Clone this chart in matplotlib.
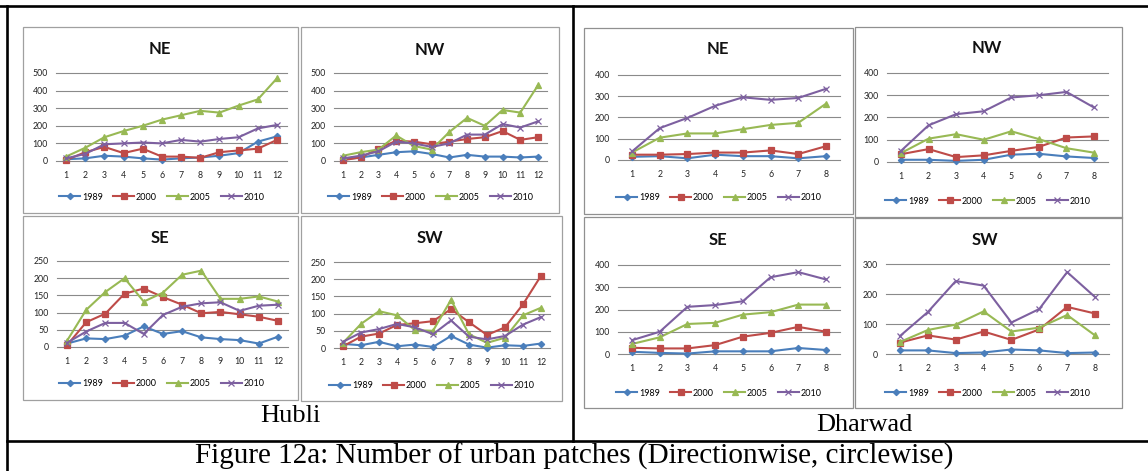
import matplotlib
matplotlib.use("Agg")
import matplotlib.pyplot as plt
from matplotlib.lines import Line2D
from matplotlib.patches import Rectangle

W, H = 1148, 471

years = ["1989", "2000", "2005", "2010"]
hubli_circles = list(range(1, 13))
dharwad_circles = list(range(1, 9))

# ---- Hubli ----
hubli_ne_1989 = [10, 15, 30, 25, 15, 8, 15, 20, 30, 45, 110, 140]
hubli_ne_2000 = [5, 50, 80, 45, 70, 25, 25, 18, 50, 60, 70, 120]
hubli_ne_2005 = [25, 75, 135, 170, 200, 235, 260, 285, 275, 315, 350, 470]
hubli_ne_2010 = [15, 40, 95, 100, 105, 100, 120, 110, 125, 135, 185, 205]

hubli_nw_1989 = [10, 20, 35, 50, 55, 40, 20, 35, 25, 25, 20, 25]
hubli_nw_2000 = [5, 20, 70, 115, 110, 95, 110, 125, 135, 170, 120, 135]
hubli_nw_2005 = [30, 50, 65, 145, 85, 65, 165, 245, 200, 290, 275, 430]
hubli_nw_2010 = [15, 30, 55, 110, 100, 80, 100, 150, 150, 210, 190, 225]

hubli_se_1989 = [10, 25, 23, 33, 60, 38, 46, 28, 23, 20, 10, 30]
hubli_se_2000 = [5, 72, 97, 155, 170, 145, 123, 98, 102, 95, 88, 76]
hubli_se_2005 = [18, 108, 160, 200, 132, 158, 210, 222, 140, 140, 147, 132]
hubli_se_2010 = [12, 45, 70, 70, 38, 93, 117, 127, 130, 105, 120, 123]

hubli_sw_1989 = [12, 8, 18, 5, 10, 3, 35, 10, 1, 8, 6, 13]
hubli_sw_2000 = [5, 33, 42, 67, 72, 78, 113, 75, 38, 60, 127, 210]
hubli_sw_2005 = [15, 70, 107, 95, 52, 50, 140, 40, 15, 30, 95, 117]
hubli_sw_2010 = [18, 45, 55, 70, 60, 40, 80, 33, 25, 35, 68, 90]

# ---- Dharwad ----
dharwad_ne_1989 = [15, 18, 8, 25, 18, 18, 8, 18]
dharwad_ne_2000 = [25, 25, 28, 35, 35, 45, 28, 65]
dharwad_ne_2005 = [35, 105, 125, 125, 145, 165, 175, 265]
dharwad_ne_2010 = [40, 150, 198, 255, 295, 283, 292, 335]

dharwad_nw_1989 = [10, 10, 5, 10, 33, 37, 25, 18]
dharwad_nw_2000 = [35, 58, 22, 30, 50, 68, 110, 115]
dharwad_nw_2005 = [40, 105, 125, 100, 138, 103, 62, 42]
dharwad_nw_2010 = [50, 165, 215, 228, 290, 300, 315, 245]

dharwad_se_1989 = [10, 5, 2, 12, 12, 12, 27, 18]
dharwad_se_2000 = [28, 25, 25, 40, 78, 95, 122, 100]
dharwad_se_2005 = [45, 75, 135, 140, 177, 188, 222, 222]
dharwad_se_2010 = [62, 100, 212, 220, 237, 345, 368, 335]

dharwad_sw_1989 = [12, 12, 3, 5, 15, 12, 3, 5]
dharwad_sw_2000 = [38, 62, 48, 75, 47, 82, 157, 135]
dharwad_sw_2005 = [40, 80, 98, 142, 75, 88, 130, 62]
dharwad_sw_2010 = [60, 140, 243, 228, 105, 150, 273, 190]

colors = ["#4A7EBB", "#BE4B48", "#98B954", "#7D60A0"]
markers = ["D", "s", "^", "x"]
msizes = [3.2, 4.2, 4.5, 5.0]

FONT = ["Lato", "DejaVu Sans"]
SERIF = ["Liberation Serif", "DejaVu Serif"]

fig = plt.figure(figsize=(W / 100, H / 100), dpi=100)


def fx(x):
    return x / W


def fy(y):
    return 1 - y / H


def hline(x1, x2, y, **kw):
    fig.add_artist(Line2D([fx(x1), fx(x2)], [fy(y), fy(y)], transform=fig.transFigure, **kw))


def vline(x, y1, y2, **kw):
    fig.add_artist(Line2D([fx(x), fx(x)], [fy(y1), fy(y2)], transform=fig.transFigure, **kw))


def box(l, t, r, b, ec="#a0a0a0"):
    fig.add_artist(Rectangle((fx(l), fy(b)), (r - l) / W, (b - t) / H,
                             transform=fig.transFigure, fill=False, ec=ec, lw=0.9))


def panel(title, circles, series, ymax, ystep, x1, xn, ytop, ybot, title_xy, leg_xy):
    n = len(circles)
    sp = (xn - x1) / (n - 1)
    left, right = x1 - sp / 2, xn + sp / 2
    ax = fig.add_axes([fx(left), fy(ybot), (right - left) / W, (ybot - ytop) / H])
    ax.set_facecolor("none")
    ax.set_xlim(0.5, n + 0.5)
    ax.set_ylim(0, ymax)
    yt = list(range(0, ymax + 1, ystep))
    ax.set_yticks(yt)
    ax.set_xticks(circles)
    for y in yt[1:]:
        ax.axhline(y, color="#8a8a8a", lw=0.8, zorder=0, clip_on=False)
    for s in ["left", "top", "right"]:
        ax.spines[s].set_visible(False)
    ax.spines["bottom"].set_color("#8a8a8a")
    ax.spines["bottom"].set_linewidth(0.8)
    ax.tick_params(axis="both", length=0, labelsize=6.3, labelcolor="#222222")
    ax.tick_params(axis="x", pad=7.0)
    ax.tick_params(axis="y", pad=6.0)
    for lab in ax.get_xticklabels() + ax.get_yticklabels():
        lab.set_family(FONT)
    handles = []
    for vals, c, m, ms in zip(series, colors, markers, msizes):
        ln, = ax.plot(circles, vals, color=c, lw=1.5, marker=m, ms=ms,
                      mec=c, mfc=c, mew=0.9, clip_on=False, zorder=3)
        handles.append(ln)
    fig.text(fx(title_xy[0]), fy(title_xy[1]), title, ha="center", va="center",
             fontsize=12, fontweight="bold", family=FONT, color="#111111")
    fig.legend(handles, years, loc="center", bbox_to_anchor=(fx(leg_xy[0]), fy(leg_xy[1])),
               ncol=4, frameon=False, prop={"family": FONT, "size": 6.5},
               handlelength=2.35, handletextpad=0.2, columnspacing=1.1,
               borderpad=0, borderaxespad=0)
    return ax


# chart frames
box(23, 27, 298, 213)
box(301, 27, 559, 213)
box(23, 216, 298, 400)
box(301, 216, 562, 401)
box(584, 28, 853, 214, ec="#909090")
box(855, 27, 1122, 218, ec="#909090")
box(584, 217, 853, 408, ec="#909090")
box(855, 217, 1122, 408, ec="#909090")

# Hubli panels
panel("NE", hubli_circles, [hubli_ne_1989, hubli_ne_2000, hubli_ne_2005, hubli_ne_2010],
      500, 100, 66, 277, 73, 161, (160, 49), (162, 197))
panel("NW", hubli_circles, [hubli_nw_1989, hubli_nw_2000, hubli_nw_2005, hubli_nw_2010],
      500, 100, 343, 538, 73, 161, (430, 50), (431, 197))
panel("SE", hubli_circles, [hubli_se_1989, hubli_se_2000, hubli_se_2005, hubli_se_2010],
      250, 50, 67, 278, 261, 347, (160, 238), (162, 384))
panel("SW", hubli_circles, [hubli_sw_1989, hubli_sw_2000, hubli_sw_2005, hubli_sw_2010],
      250, 50, 343, 541, 262, 348, (430, 238), (432, 386))

# Dharwad panels
panel("NE", dharwad_circles, [dharwad_ne_1989, dharwad_ne_2000, dharwad_ne_2005, dharwad_ne_2010],
      400, 100, 632, 826, 75, 160, (718, 49), (719, 198))
panel("NW", dharwad_circles, [dharwad_nw_1989, dharwad_nw_2000, dharwad_nw_2005, dharwad_nw_2010],
      400, 100, 901, 1094, 73, 162, (987, 48), (988, 201))
panel("SE", dharwad_circles, [dharwad_se_1989, dharwad_se_2000, dharwad_se_2005, dharwad_se_2010],
      400, 100, 632, 826, 265, 354, (718, 240), (719, 393))
panel("SW", dharwad_circles, [dharwad_sw_1989, dharwad_sw_2000, dharwad_sw_2005, dharwad_sw_2010],
      300, 100, 900, 1095, 264, 354, (985, 240), (988, 393))

# table borders
lw_b = 1.9
hline(0, W, 6, color="black", lw=lw_b)
vline(7, 6, H, color="black", lw=lw_b)
vline(573, 6, 441, color="black", lw=lw_b)
hline(7, W, 441, color="black", lw=lw_b)

fig.text(fx(290), fy(422), "Hubli", ha="center", va="baseline", fontsize=19, family=SERIF)
fig.text(fx(864), fy(431), "Dharwad", ha="center", va="baseline", fontsize=19, family=SERIF)
fig.text(fx(574), fy(464), "Figure 12a: Number of urban patches (Directionwise, circlewise)",
         ha="center", va="baseline", fontsize=21, family=SERIF)

fig.savefig("out.png", dpi=100)
